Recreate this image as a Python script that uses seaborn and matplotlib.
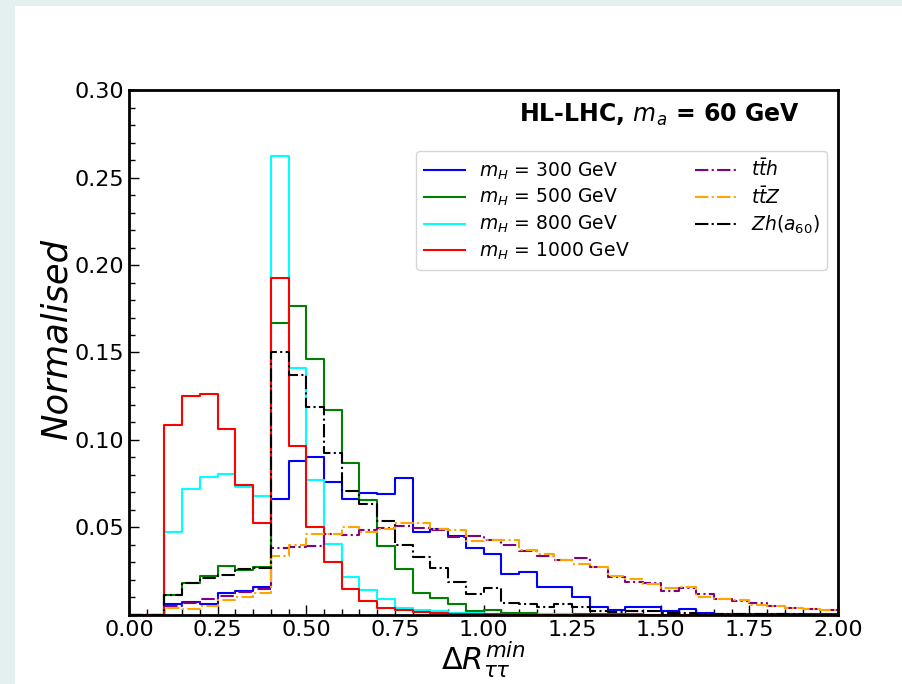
import numpy as np
import pandas as pd
import seaborn as sns
import matplotlib.pyplot as plt
from matplotlib.patches import Rectangle
from matplotlib.ticker import MultipleLocator

# bin edges: 0.00 .. 2.00, width 0.05 ; values below start at 0.10
bin_width = 0.05
first_filled = 0.10

# normalised heights for bins 0.10-0.15, 0.15-0.20, ... 1.95-2.00
mh300 = [0.0063, 0.0076, 0.0065, 0.0125, 0.0139, 0.0158, 0.0664, 0.0879, 0.0902, 0.0761,
         0.0664, 0.0699, 0.0689, 0.0784, 0.0475, 0.0494, 0.0452, 0.0383, 0.0351, 0.0232,
         0.0247, 0.0158, 0.0158, 0.0100, 0.0044, 0.0028, 0.0044, 0.0044, 0.0023, 0.0032,
         0.0010, 0.0008, 0.0005, 0.0005, 0.0006, 0.0004, 0.0003, 0.0003]
mh500 = [0.0116, 0.0180, 0.0220, 0.0280, 0.0257, 0.0276, 0.1669, 0.1767, 0.1460, 0.1171,
         0.0869, 0.0655, 0.0395, 0.0262, 0.0123, 0.0099, 0.0063, 0.0025, 0.0028, 0.0010,
         0.0010, 0.0008, 0.0008, 0.0006, 0.0004, 0.0003, 0.0003, 0.0002, 0.0002, 0.0002,
         0.0001, 0.0001, 0.0001, 0.0001, 0.0001, 0.0, 0.0, 0.0]
mh800 = [0.0475, 0.0719, 0.0787, 0.0808, 0.0734, 0.0680, 0.2625, 0.1414, 0.0773, 0.0408,
         0.0215, 0.0142, 0.0091, 0.0040, 0.0028, 0.0020, 0.0012, 0.0010, 0.0008, 0.0006,
         0.0005, 0.0004, 0.0003, 0.0002, 0.0002, 0.0001, 0.0001, 0.0001, 0.0, 0.0,
         0.0, 0.0, 0.0, 0.0, 0.0, 0.0, 0.0, 0.0]
mh1000 = [0.1086, 0.1250, 0.1263, 0.1060, 0.0745, 0.0525, 0.1927, 0.0964, 0.0503, 0.0300,
          0.0148, 0.0078, 0.0038, 0.0028, 0.0017, 0.0012, 0.0008, 0.0006, 0.0005, 0.0004,
          0.0003, 0.0002, 0.0002, 0.0001, 0.0001, 0.0001, 0.0, 0.0, 0.0, 0.0,
          0.0, 0.0, 0.0, 0.0, 0.0, 0.0, 0.0, 0.0]
tth = [0.0053, 0.0067, 0.0093, 0.0106, 0.0129, 0.0148, 0.0380, 0.0389, 0.0395, 0.0460,
       0.0456, 0.0488, 0.0499, 0.0507, 0.0497, 0.0484, 0.0446, 0.0450, 0.0427, 0.0402,
       0.0366, 0.0336, 0.0317, 0.0326, 0.0275, 0.0218, 0.0190, 0.0184, 0.0137, 0.0152,
       0.0120, 0.0089, 0.0082, 0.0070, 0.0053, 0.0038, 0.0034, 0.0028]
ttz = [0.0038, 0.0034, 0.0053, 0.0084, 0.0103, 0.0125, 0.0338, 0.0399, 0.0465, 0.0465,
       0.0501, 0.0475, 0.0494, 0.0526, 0.0526, 0.0494, 0.0484, 0.0423, 0.0427, 0.0427,
       0.0374, 0.0351, 0.0313, 0.0294, 0.0275, 0.0222, 0.0203, 0.0175, 0.0152, 0.0161,
       0.0104, 0.0091, 0.0085, 0.0057, 0.0053, 0.0042, 0.0036, 0.0028]
zh = [0.0116, 0.0180, 0.0210, 0.0226, 0.0260, 0.0268, 0.1505, 0.1370, 0.1186, 0.0926,
      0.0708, 0.0636, 0.0535, 0.0399, 0.0334, 0.0271, 0.0186, 0.0120, 0.0152, 0.0066,
      0.0060, 0.0047, 0.0060, 0.0047, 0.0023, 0.0019, 0.0020, 0.0023, 0.0013, 0.0013,
      0.0006, 0.0005, 0.0004, 0.0004, 0.0003, 0.0003, 0.0002, 0.0002]

labels = [r"$m_H$ = 300 GeV", r"$m_H$ = 500 GeV", r"$m_H$ = 800 GeV", r"$m_H$ = 1000 GeV",
          r"$t\bar{t}h$", r"$t\bar{t}Z$", r"$Zh(a_{60})$"]
series = [mh300, mh500, mh800, mh1000, tth, ttz, zh]
colors = ["blue", "green", "cyan", "red", "purple", "orange", "black"]
styles = ["-", "-", "-", "-", "-.", "-.", "-."]

edges = [round(e, 4) for e in np.arange(0, 2.0 + bin_width / 2, bin_width)]
centers = np.array(edges[:-1]) + bin_width / 2
n_empty = int(round(first_filled / bin_width))

fig = plt.figure(figsize=(9.03, 6.84), dpi=100)
fig.patch.set_facecolor("#e4f0f0")
# white panel inside the light frame
fig.patches.append(Rectangle((15 / 903, 0), 1, 678 / 684, transform=fig.transFigure,
                             facecolor="white", edgecolor="none", zorder=-5))
ax = fig.add_axes([0.1429, 0.1009, 0.7852, 0.7675], zorder=2)

for vals, lab, col, ls in zip(series, labels, colors, styles):
    df = pd.DataFrame({"dr": centers, "w": [0.0] * n_empty + list(vals)})
    sns.histplot(data=df, x="dr", weights="w", bins=edges, element="step", fill=False,
                 color=col, linestyle=ls, linewidth=1.5, label=lab, ax=ax)

ax.set_xlim(0, 2.0)
ax.set_ylim(0, 0.30)
ax.set_yticks([0.05, 0.10, 0.15, 0.20, 0.25, 0.30])
ax.set_xticks([0.0, 0.25, 0.5, 0.75, 1.0, 1.25, 1.5, 1.75, 2.0])
ax.xaxis.set_minor_locator(MultipleLocator(0.05))
ax.yaxis.set_minor_locator(MultipleLocator(0.01))
ax.xaxis.set_major_formatter(plt.FormatStrFormatter("%.2f"))
ax.yaxis.set_major_formatter(plt.FormatStrFormatter("%.2f"))
ax.tick_params(which="both", direction="in", labelsize=16, width=1)
ax.tick_params(which="major", length=7)
ax.tick_params(which="minor", length=4)
for sp in ax.spines.values():
    sp.set_linewidth(2)

ax.set_xlabel(r"$\Delta R_{\tau\tau}^{min}$", fontsize=22, labelpad=0)
ax.set_ylabel("Normalised", fontsize=25.5, style="italic")
ax.yaxis.set_label_coords(-0.078, 0.525)

ax.text(0.946, 0.952, r"HL-LHC, $m_a$ = 60 GeV", transform=ax.transAxes,
        ha="right", va="center", fontsize=17, fontweight="bold")
ax.legend(ncol=2, fontsize=13.5, loc="upper right", bbox_to_anchor=(0.9845, 0.884),
          borderaxespad=0, handlelength=2.2, handletextpad=0.75, labelspacing=0.3,
          columnspacing=3.5)

fig.savefig("out.png", dpi=100, facecolor=fig.get_facecolor())
